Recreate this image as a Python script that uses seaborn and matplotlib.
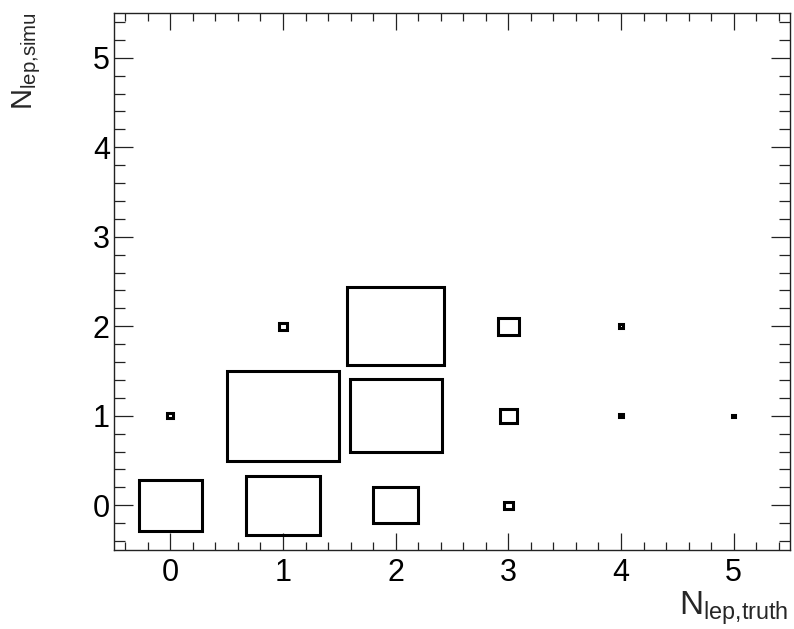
import numpy as np
import pandas as pd
import matplotlib
matplotlib.use("Agg")
import matplotlib.pyplot as plt
from matplotlib.patches import Rectangle
from matplotlib.ticker import MultipleLocator
import seaborn as sns

# bin contents of the 2D histogram (relative units, largest bin = 1000)
truth_bin = [0, 1, 2, 3, 0, 1, 2, 3, 4, 5, 1, 2, 3, 4]
simu_bin = [0, 0, 0, 0, 1, 1, 1, 1, 1, 1, 2, 2, 2, 2]
content = [565, 660, 400, 75, 55, 1000, 815, 155, 30, 25, 75, 866, 185, 40]

tick_values = [0, 1, 2, 3, 4, 5]
xlabel = r"$\mathregular{N_{lep{,}truth}}$"
ylabel = r"$\mathregular{N_{lep{,}simu}}$"

df = pd.DataFrame({"truth": truth_bin, "simu": simu_bin, "content": content})
df["side"] = df["content"] / df["content"].max()

sns.set_theme(style="ticks")
plt.rcParams["font.family"] = ["Liberation Sans", "DejaVu Sans"]
plt.rcParams["mathtext.fontset"] = "custom"
plt.rcParams["mathtext.rm"] = "Liberation Sans"

fig = plt.figure(figsize=(7.94, 6.29), dpi=100)
ax = fig.add_axes([114 / 794, 1 - 550 / 629, 676 / 794, 537 / 629])

# ROOT "BOX" style: box side proportional to bin content
for _, row in df.iterrows():
    w = row["side"]
    ax.add_patch(Rectangle((row["truth"] - w / 2, row["simu"] - w / 2), w, w,
                           fill=False, edgecolor="black", linewidth=2.2))

ax.set_xlim(-0.5, 5.5)
ax.set_ylim(-0.5, 5.5)
ax.set_xticks(tick_values)
ax.set_yticks(tick_values)
ax.xaxis.set_minor_locator(MultipleLocator(0.2))
ax.yaxis.set_minor_locator(MultipleLocator(0.2))

ax.tick_params(axis="both", which="both", direction="in", top=True, right=True,
               colors="#222222", width=0.9)
ax.tick_params(axis="x", which="major", length=12, labelsize=22, pad=6)
ax.tick_params(axis="x", which="minor", length=5.5)
ax.tick_params(axis="y", which="major", length=14, labelsize=22, pad=3)
ax.tick_params(axis="y", which="minor", length=8)
for lab in ax.get_xticklabels() + ax.get_yticklabels():
    lab.set_color("black")

for sp in ax.spines.values():
    sp.set_visible(True)
    sp.set_color("#222222")
    sp.set_linewidth(1.0)

ax.text(0.997, -0.121, xlabel, transform=ax.transAxes, ha="right",
        va="baseline", fontsize=24)
ax.text(-0.121, 1.002, ylabel, transform=ax.transAxes, ha="right",
        va="baseline", rotation=90, rotation_mode="anchor", fontsize=21)

fig.savefig("out.png", dpi=100, facecolor="white")
